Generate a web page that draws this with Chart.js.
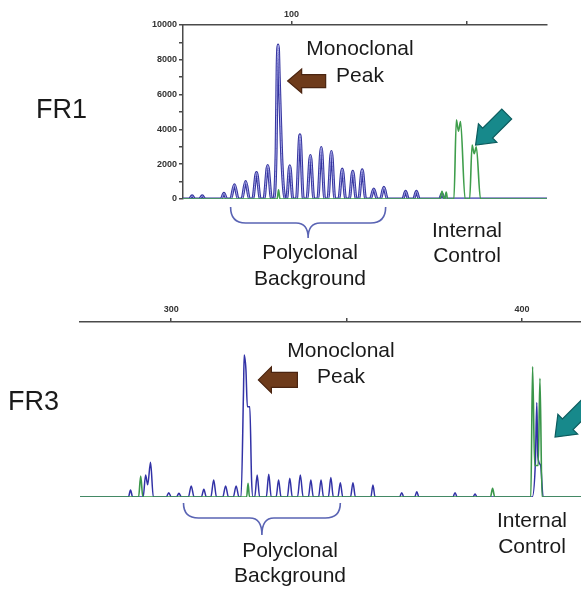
<!DOCTYPE html>
<html>
<head>
<meta charset="utf-8">
<script src="https://cdn.jsdelivr.net/npm/chart.js@4"></script>
<style>
  body { margin: 0; background: #fff; }
  #page { position: relative; width: 581px; height: 590px; overflow: hidden; font-family: Arial, "Liberation Sans", sans-serif; color: #1a1a1a; }
  #page canvas { position: absolute; left: 0; top: 0; }
  .lbl { position: absolute; text-align: center; font-size: 21px; white-space: nowrap; transform: translateX(-50%); }
  .fr { position: absolute; font-size: 27px; line-height: 27px; }
</style>
</head>
<body>
<div id="page">
  <canvas id="fr1" width="581" height="590"></canvas>
  <canvas id="fr3" width="581" height="590"></canvas>

  <div class="fr" style="left:36px; top:96px;">FR1</div>
  <div class="fr" style="left:8px; top:388px;">FR3</div>

  <div class="lbl" style="left:360px; top:34px; line-height:27px;">Monoclonal<br>Peak</div>
  <div class="lbl" style="left:310px; top:239px; line-height:26px;">Polyclonal<br>Background</div>
  <div class="lbl" style="left:467px; top:217px; line-height:25px;">Internal<br>Control</div>

  <div class="lbl" style="left:341px; top:337px; line-height:26px;">Monoclonal<br>Peak</div>
  <div class="lbl" style="left:290px; top:537px; line-height:25px;">Polyclonal<br>Background</div>
  <div class="lbl" style="left:532px; top:507px; line-height:26px;">Internal<br>Control</div>
</div>

<script>
// ---------------- DATA (size in bp, fluorescence) ----------------
// FR1 trace, blue channel (sample)
const fr1Blue = [
  [69, 0],
  [70.8, 0], [71.6, 180], [72.4, 0],
  [73.7, 0], [74.5, 180], [75.3, 0],
  [79.9, 0], [80.7, 330], [81.5, 0],
  [82.6, 0], [83.7, 820], [84.8, 0],
  [85.8, 0], [86.9, 1000], [88.0, 0],
  [88.9, 0], [90.0, 1530], [91.1, 0],
  [92.1, 0], [93.2, 1930], [94.3, 0],
  [94.9, 0], [95.6, 2700], [95.9, 7600], [96.2, 8850], [96.5, 7000], [96.8, 5000], [97.3, 2000], [98.2, 0],
  [98.6, 0], [99.5, 1910], [100.4, 0],
  [101.4, 0], [102.4, 3690], [103.4, 0],
  [104.4, 0], [105.4, 2500], [106.4, 0],
  [107.5, 0], [108.5, 2960], [109.5, 0],
  [110.4, 0], [111.4, 2730], [112.4, 0],
  [113.5, 0], [114.5, 1720], [115.5, 0],
  [116.5, 0], [117.5, 1590], [118.5, 0],
  [119.2, 0], [120.2, 1680], [121.2, 0],
  [122.5, 0], [123.5, 570], [124.5, 0],
  [125.4, 0], [126.4, 670], [127.4, 0],
  [131.8, 0], [132.6, 440], [133.4, 0],
  [134.9, 0], [135.7, 440], [136.5, 0],
  [142.3, 0], [143.0, 300], [143.7, 0],
  [173, 0]
];
// FR1 trace, green channel (internal control)
const fr1Green = [
  [69, 0],
  [95.9, 0], [96.3, 530], [96.7, 0],
  [142.4, 0], [143.0, 440], [143.6, 0],
  [143.8, 0], [144.2, 400], [144.6, 0],
  [146.4, 0], [147.1, 4550], [147.7, 3900], [148.3, 4450], [149.6, 0],
  [150.9, 0], [151.6, 3100], [152.2, 2600], [152.8, 3000], [154.0, 0],
  [173, 0]
];
// FR3 trace, blue channel
const fr3Blue = [
  [274, 0],
  [287.8, 0], [288.4, 400], [289.0, 0],
  [292.0, 0], [292.7, 1260], [293.3, 700], [294.1, 1980], [294.9, 0],
  [298.6, 0], [299.3, 250], [300.0, 0],
  [301.5, 0], [302.2, 210], [302.9, 0],
  [304.9, 0], [305.7, 630], [306.5, 0],
  [308.6, 0], [309.3, 440], [310.0, 0],
  [311.3, 0], [312.1, 970], [312.9, 0],
  [314.7, 0], [315.5, 630], [316.3, 0],
  [317.7, 0], [318.5, 630], [319.3, 0],
  [319.9, 0], [320.6, 6000], [320.8, 8110], [321.3, 7260], [321.7, 5160], [322.4, 5160], [322.9, 1000], [323.3, 0],
  [323.8, 0], [324.5, 1260], [325.2, 0],
  [327.1, 0], [327.8, 1300], [328.5, 0],
  [329.9, 0], [330.6, 970], [331.3, 0],
  [333.1, 0], [333.8, 1070], [334.5, 0],
  [336.0, 0], [336.8, 1260], [337.6, 0],
  [339.1, 0], [339.8, 970], [340.5, 0],
  [342.0, 0], [342.7, 970], [343.4, 0],
  [344.8, 0], [345.5, 1120], [346.2, 0],
  [347.5, 0], [348.2, 820], [348.9, 0],
  [351.1, 0], [351.8, 820], [352.5, 0],
  [356.9, 0], [357.5, 690], [358.1, 0],
  [365.1, 0], [365.7, 250], [366.3, 0],
  [369.4, 0], [370.0, 300], [370.6, 0],
  [380.3, 0], [380.9, 250], [381.5, 0],
  [386.0, 0], [386.6, 170], [387.2, 0],
  [402.9, 0], [403.8, 2000], [404.2, 5400], [404.5, 2300], [405.3, 1800], [406.0, 0],
  [417, 0]
];
// FR3 trace, green channel
const fr3Green = [
  [274, 0],
  [290.7, 0], [291.3, 1200], [291.9, 0],
  [321.5, 0], [321.9, 780], [322.3, 0],
  [391.0, 0], [391.6, 500], [392.2, 0],
  [402.5, 0], [403.0, 7450], [403.6, 1800], [404.6, 1800], [405.1, 6780], [405.7, 0],
  [417, 0]
];

// axis ticks
const fr1XTicks = [100, 150];
const fr1XLabels = [100];
const fr1YTicks = [0, 1000, 2000, 3000, 4000, 5000, 6000, 7000, 8000, 9000, 10000];
const fr1YLabels = [0, 2000, 4000, 6000, 8000, 10000];
const fr3XTicks = [300, 350, 400];
const fr3XLabels = [300, 400];

// annotation anchors (data units)
const fr1Polyclonal = [82.6, 126.9];
const fr3Polyclonal = [303.5, 348.2];
const fr1MonoArrow = [98.9, 6780];
const fr1CtrlArrow = [152.6, 3100];
const fr3MonoArrow = [324.85, 6690];
const fr3CtrlArrow = [409.4, 3430];

// ---------------- HELPERS ----------------
const toXY = arr => arr.map(p => ({ x: p[0], y: p[1] }));
const GREEN = "#3f9e4c";

function drawBrace(ctx, x1, x2, y0, top, mid, tip) {
  const xc = (x1 + x2) / 2, r = 15;
  ctx.save();
  ctx.strokeStyle = "#5a64b4";
  ctx.lineWidth = 1.6;
  ctx.beginPath();
  ctx.moveTo(x1, y0 + top);
  ctx.quadraticCurveTo(x1, y0 + mid, x1 + r, y0 + mid);
  ctx.lineTo(xc - 12, y0 + mid);
  ctx.quadraticCurveTo(xc, y0 + mid, xc, y0 + tip);
  ctx.quadraticCurveTo(xc, y0 + mid, xc + 12, y0 + mid);
  ctx.lineTo(x2 - r, y0 + mid);
  ctx.quadraticCurveTo(x2, y0 + mid, x2, y0 + top);
  ctx.stroke();
  ctx.restore();
}

function drawArrow(ctx, tx, ty, angle, len, headLen, headHalf, shaftHalf, fill, stroke) {
  ctx.save();
  ctx.translate(tx, ty);
  ctx.rotate(angle);
  ctx.beginPath();
  ctx.moveTo(0, 0);
  ctx.lineTo(headLen, -headHalf);
  ctx.lineTo(headLen, -shaftHalf);
  ctx.lineTo(len, -shaftHalf);
  ctx.lineTo(len, shaftHalf);
  ctx.lineTo(headLen, shaftHalf);
  ctx.lineTo(headLen, headHalf);
  ctx.closePath();
  ctx.fillStyle = fill;
  ctx.fill();
  ctx.strokeStyle = stroke;
  ctx.lineWidth = 1.2;
  ctx.stroke();
  ctx.restore();
}

const notes = {
  id: "notes",
  afterDraw(chart, args, o) {
    const { ctx, scales: { x, y } } = chart;
    const y0 = y.getPixelForValue(0);
    drawBrace(ctx, x.getPixelForValue(o.brace[0]), x.getPixelForValue(o.brace[1]), y0, o.braceTop, o.braceMid, o.braceTip);
    const m = o.mono;
    drawArrow(ctx, x.getPixelForValue(m.at[0]), y.getPixelForValue(m.at[1]), 0, m.len, m.headLen, m.headHalf, m.shaftHalf, "#6e3b1b", "#4a2410");
    const c = o.ctrl;
    drawArrow(ctx, x.getPixelForValue(c.at[0]), y.getPixelForValue(c.at[1]), -Math.PI / 4, c.len, c.headLen, c.headHalf, c.shaftHalf, "#17898b", "#0c5c5e");
  }
};

function axisStyle(extra) {
  return Object.assign({
    border: { color: "#4a4a4a", width: 1.5 },
    grid: { drawOnChartArea: false, tickLength: 4, color: "#4a4a4a", lineWidth: 1.5 },
  }, extra);
}

const lineEl = { tension: 0.4, cubicInterpolationMode: "monotone" };

// ---------------- FR1 ----------------
new Chart(document.getElementById("fr1"), {
  type: "line",
  data: {
    datasets: [
      { data: toXY(fr1Green), borderColor: GREEN, borderWidth: 1.6, order: 0 },
      { data: toXY(fr1Blue), borderColor: "#a9a9e8", borderWidth: 1, order: 1 },
      { data: toXY(fr1Blue), borderColor: "#34349e", borderWidth: 3, order: 2 }
    ]
  },
  options: {
    responsive: false,
    animation: false,
    layout: { padding: { left: 140, top: 0, right: 34, bottom: 391 } },
    elements: { point: { radius: 0 }, line: lineEl },
    plugins: {
      legend: { display: false },
      tooltip: { enabled: false },
      notes: {
        brace: fr1Polyclonal, braceTop: 8, braceMid: 24, braceTip: 39,
        mono: { at: fr1MonoArrow, len: 38, headLen: 14, headHalf: 12, shaftHalf: 6.5 },
        ctrl: { at: fr1CtrlArrow, len: 44, headLen: 17, headHalf: 13, shaftHalf: 7 }
      }
    },
    scales: {
      x: axisStyle({
        type: "linear", position: "top", min: 69, max: 173,
        afterFit: s => { s.height = 25; },
        afterBuildTicks: s => { s.ticks = fr1XTicks.map(v => ({ value: v })); },
        ticks: {
          autoSkip: false, maxRotation: 0, padding: 1, color: "#333",
          font: { family: "Arial", size: 9, weight: "bold" },
          callback: v => fr1XLabels.includes(v) ? String(v) : ""
        }
      }),
      y: axisStyle({
        min: 0, max: 10000,
        afterFit: s => { s.width = 43; },
        afterBuildTicks: s => { s.ticks = fr1YTicks.map(v => ({ value: v })); },
        ticks: {
          autoSkip: false, padding: 2, color: "#333",
          font: { family: "Arial", size: 9, weight: "bold" },
          callback: v => fr1YLabels.includes(v) ? String(v) : ""
        }
      })
    }
  },
  plugins: [notes]
});

// ---------------- FR3 ----------------
new Chart(document.getElementById("fr3"), {
  type: "line",
  data: {
    datasets: [
      { data: toXY(fr3Green), borderColor: "#3a964a", borderWidth: 1.6, order: 0 },
      { data: toXY(fr3Blue), borderColor: "#3232a6", borderWidth: 1.5, order: 1 }
    ]
  },
  options: {
    responsive: false,
    animation: false,
    layout: { padding: { left: 80, top: 290, right: 0, bottom: 93 } },
    elements: { point: { radius: 0 }, line: lineEl },
    plugins: {
      legend: { display: false },
      tooltip: { enabled: false },
      notes: {
        brace: fr3Polyclonal, braceTop: 6, braceMid: 21, braceTip: 38,
        mono: { at: fr3MonoArrow, len: 39, headLen: 13, headHalf: 13, shaftHalf: 7.5 },
        ctrl: { at: fr3CtrlArrow, len: 48, headLen: 18, headHalf: 14, shaftHalf: 7.5 }
      }
    },
    scales: {
      x: axisStyle({
        type: "linear", position: "top", min: 274, max: 416.8,
        afterFit: s => { s.height = 32; },
        afterBuildTicks: s => { s.ticks = fr3XTicks.map(v => ({ value: v })); },
        ticks: {
          autoSkip: false, maxRotation: 0, padding: 3, color: "#333",
          font: { family: "Arial", size: 9, weight: "bold" },
          callback: v => fr3XLabels.includes(v) ? String(v) : ""
        }
      }),
      y: { display: false, min: 0, max: 10000 }
    }
  },
  plugins: [notes]
});
</script>
</body>
</html>
